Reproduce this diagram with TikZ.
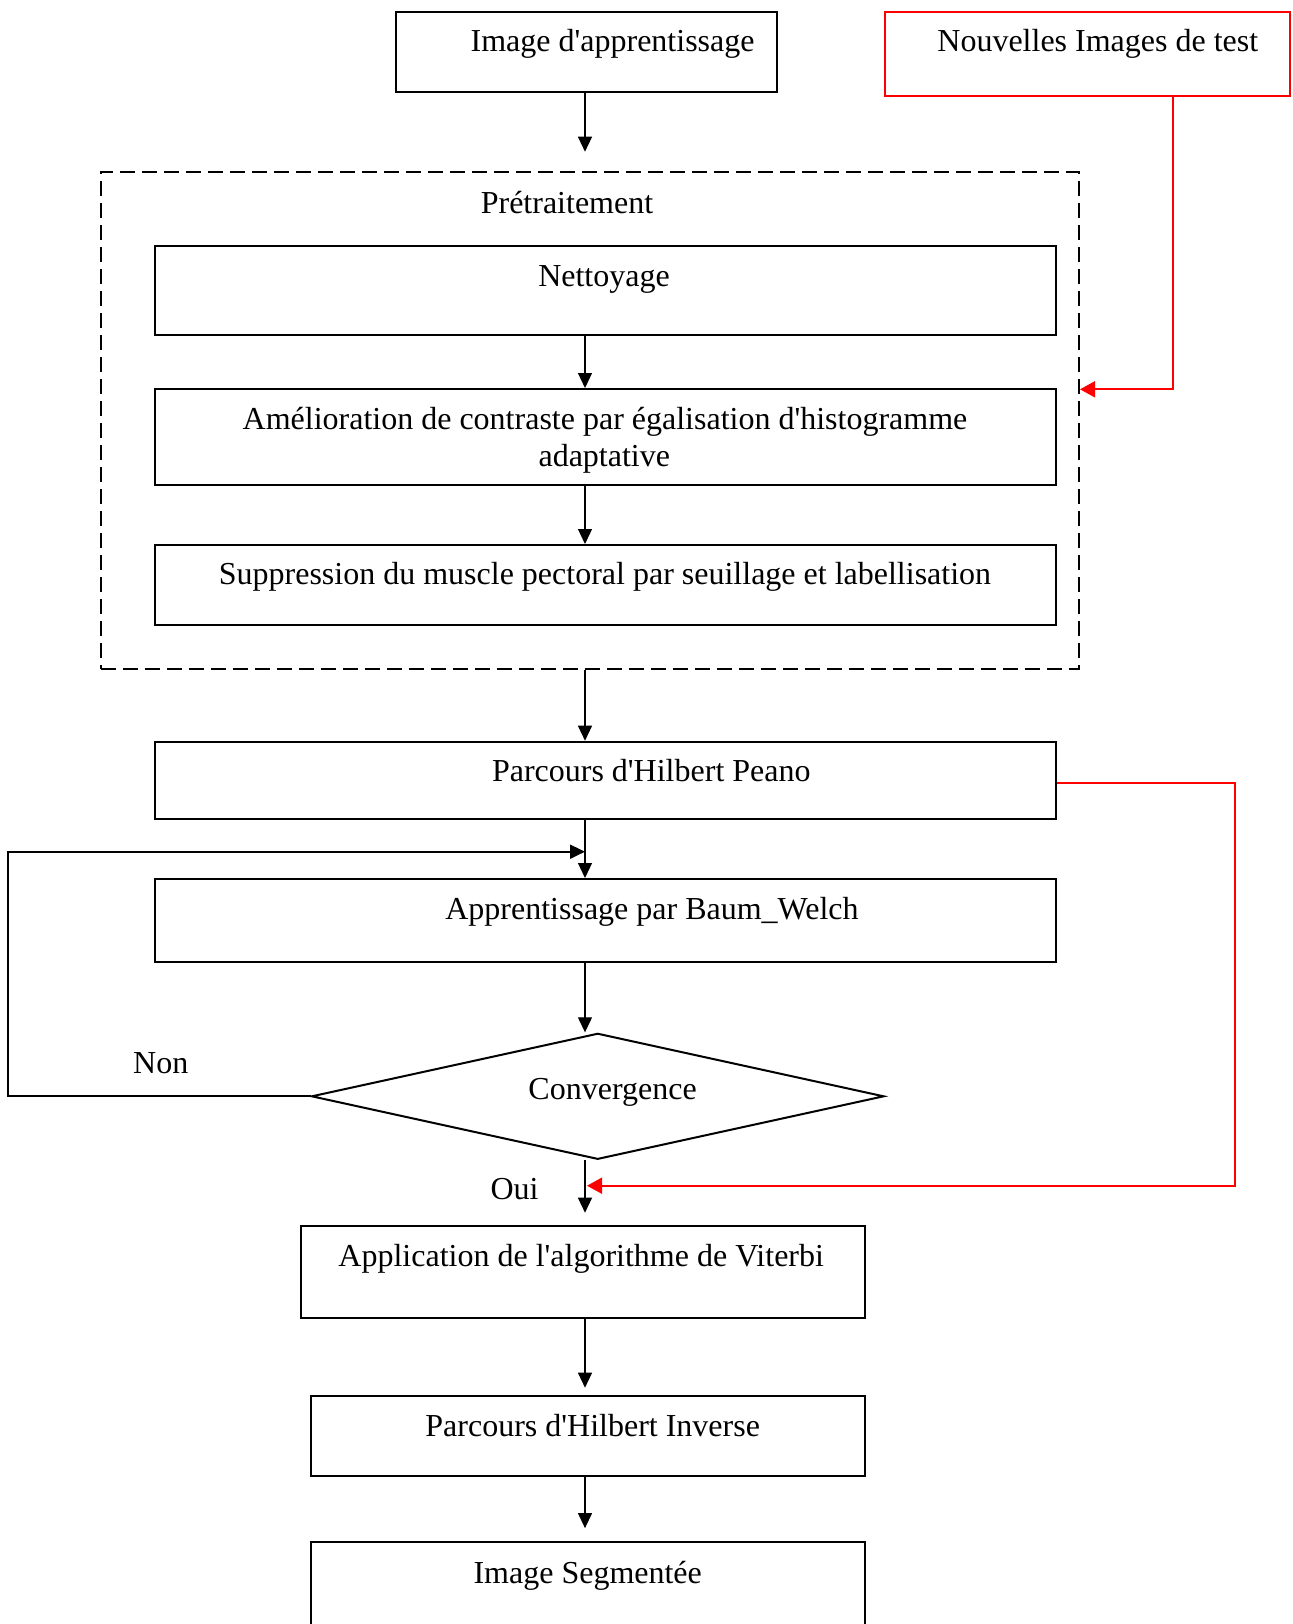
\documentclass[tikz,border=0pt]{standalone}
\usepackage{fontspec}
\setmainfont{Liberation Serif}[Ligatures=TeXOff]
\usetikzlibrary{arrows.meta,shapes.geometric}
\begin{document}
\begin{tikzpicture}[x=0.5pt,y=-0.5pt,
  box/.style={draw,line width=1pt,inner sep=0pt,rectangle},
  redbox/.style={draw=red,line width=1pt,inner sep=0pt,rectangle},
  dashbox/.style={draw,line width=1pt,inner sep=0pt,rectangle,dash pattern=on 7.5pt off 3.5pt},
  decision/.style={draw,line width=1pt,inner sep=0pt,diamond},
  lbl/.style={anchor=base,inner sep=0pt,font=\fontsize{16}{18.4}\selectfont},
  arr/.style={line width=0.6pt,-{Triangle[length=7.5pt,width=7pt]}},
  looparr/.style={line width=1pt,-{Triangle[length=7.5pt,width=7pt]}},
  redarr/.style={draw=red,line width=0.9pt,-{Triangle[length=7.5pt,width=8pt]},red}
]
\clip (0,0) rectangle (1292,1624);
\fill[white] (0,0) rectangle (1292,1624);

% boxes
\node[box, minimum width=190.75pt, minimum height=40pt] (img) at (586.25,51.7) {};
\node[redbox, minimum width=202.25pt, minimum height=42.15pt] (nouv) at (1087.25,53.85) {};
\node[dashbox, minimum width=489.25pt, minimum height=248.65pt] (pre) at (589.75,420.35) {};
\node[box, minimum width=450.25pt, minimum height=44.8pt] (net) at (605.25,290.5) {};
\node[box, minimum width=450.25pt, minimum height=48pt] (ame) at (605.25,437) {};
\node[box, minimum width=450.25pt, minimum height=40pt] (sup) at (605.25,585) {};
\node[box, minimum width=450.25pt, minimum height=38.8pt] (peano) at (605.25,780.5) {};
\node[box, minimum width=450.25pt, minimum height=41.35pt] (baum) at (605.25,920.35) {};
\node[decision, minimum width=286.25pt, minimum height=63pt] (conv) at (597.75,1096.3) {};
\node[box, minimum width=282.25pt, minimum height=46pt] (vit) at (582.75,1272) {};
\node[box, minimum width=277.25pt, minimum height=40pt] (inv) at (587.75,1435.7) {};
\node[box, minimum width=277.25pt, minimum height=50pt] (seg) at (587.75,1591.7) {};

% labels
\node[lbl] (timg) at (612.6,51.7) {Image d'apprentissage};
\node[lbl] (tnouv) at (1097.8,51) {Nouvelles Images de test};
\node[lbl] (tpre) at (567,213.7) {Prétraitement};
\node[lbl] (tnet) at (604,286) {Nettoyage};
\node[lbl] (tame1) at (605,429.5) {Amélioration de contraste par égalisation d'histogramme};
\node[lbl] (tame2) at (604.3,466) {adaptative};
\node[lbl] (tsup) at (605,584) {Suppression du muscle pectoral par seuillage et labellisation};
\node[lbl] (tpeano) at (651.3,781) {Parcours d'Hilbert Peano};
\node[lbl] (tbaum) at (652,919.3) {Apprentissage par Baum\_Welch};
\node[lbl] (tconv) at (612.6,1099.3) {Convergence};
\node[lbl] (tnon) at (160.7,1073.3) {Non};
\node[lbl] (toui) at (514.5,1199.5) {Oui};
\node[lbl] (tvit) at (581.2,1266.7) {Application de l'algorithme de Viterbi};
\node[lbl] (tinv) at (592.7,1436) {Parcours d'Hilbert Inverse};
\node[lbl] (tseg) at (587.7,1583.3) {Image Segmentée};

% helper coordinates
\coordinate (xa) at (585,0);
\coordinate (t1) at (585,151.7);
\coordinate (t2) at (585,1212.7);
\coordinate (l2) at (8,851.7);
\coordinate (r1) at (1173.3,389.3);
\coordinate (r2) at (1235,783.3);
\coordinate (r3) at (1235,1185.7);

% black connectors
\draw[arr] (img.south -| xa) -- (t1);
\draw[arr] (net.south -| xa) -- (ame.north -| xa);
\draw[arr] (ame.south -| xa) -- (sup.north -| xa);
\draw[arr] (pre.south -| xa) -- (peano.north -| xa);
\draw[arr] (peano.south -| xa) -- (baum.north -| xa);
\draw[arr] (baum.south -| xa) -- (conv.north -| xa);
\draw[arr] (conv.south -| xa) -- (t2);
\draw[arr, shorten >=3.5pt] (vit.south -| xa) -- (inv.north -| xa);
\draw[arr, shorten >=6.3pt] (inv.south -| xa) -- (seg.north -| xa);
\draw[looparr] (conv.west) -| (l2) -- (l2 -| xa);

% red connectors
\draw[redarr] (nouv.south -| r1) -- (r1) -- (r1 -| pre.east);
\draw[redarr] (peano.east |- r2) -- (r2) -- (r3) -- ([xshift=1pt]r3 -| xa);
\end{tikzpicture}
\end{document}
